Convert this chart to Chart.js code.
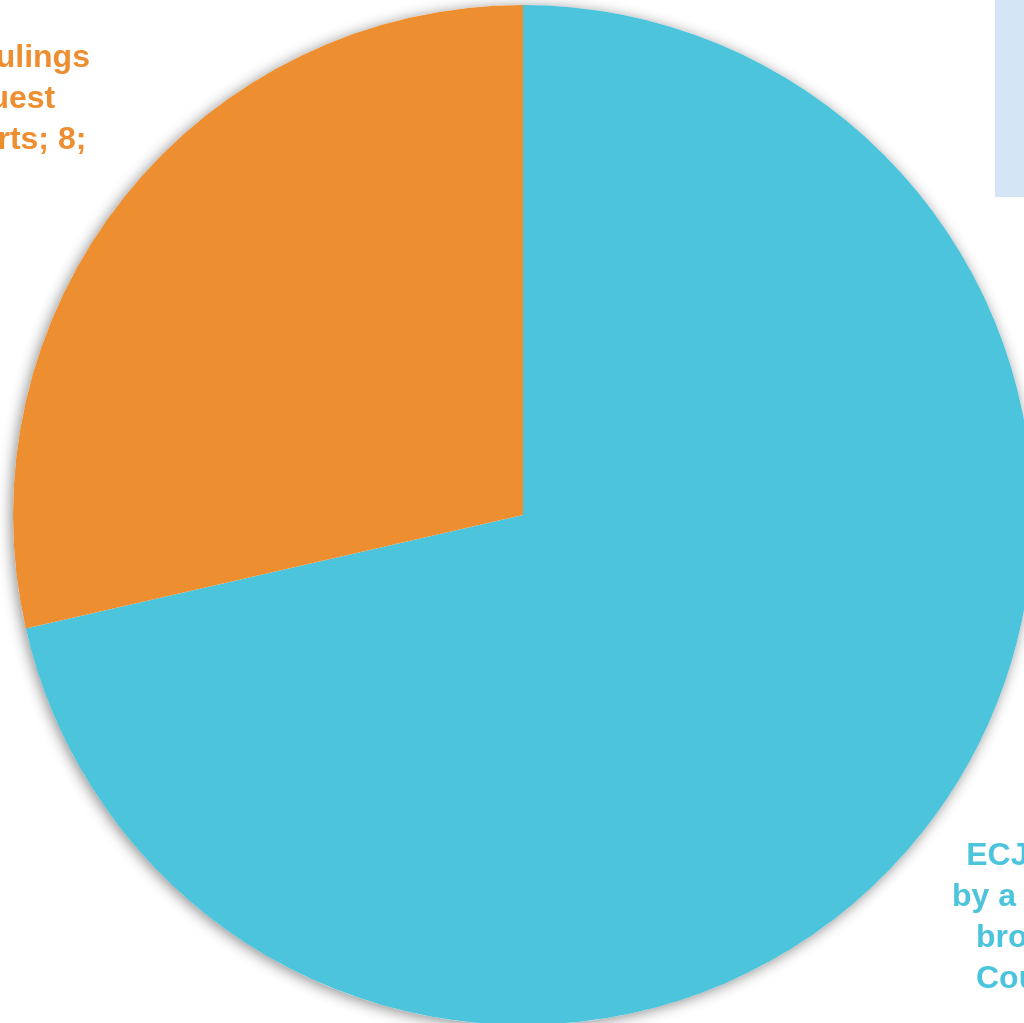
<!DOCTYPE html>
<html>
<head>
<meta charset="utf-8">
<script src="https://cdn.jsdelivr.net/npm/chart.js@4/dist/chart.umd.min.js"></script>
<style>
  html, body { margin: 0; padding: 0; background: #fff; overflow: hidden; }
  #wrap { position: relative; width: 1100px; height: 1100px; }
</style>
</head>
<body>
<div id="wrap"><canvas id="pie" width="1100" height="1100"></canvas></div>
<script>
// Pie chart - slices go clockwise from 12 o'clock
const categories = ['ECJ judgments', 'Preliminary rulings'];
const values = [20, 8];
const colors = ['#4BC4DC', '#ED8E31'];
const labelLines = [
    ['ECJ judgments;', 'by a chamber of 3', 'brought by the', 'Court; 20; 71%'],
    ['Preliminary rulings', 'on the request', 'ordinary courts; 8;', '29%']
];

// soft shadow under the whole pie + the cut-off box at top right
const pieShadow = {
    id: 'pieShadow',
    beforeDatasetsDraw(chart) {
        const arc = chart.getDatasetMeta(0).data[0];
        if (!arc) return;
        const ctx = chart.ctx;
        ctx.save();
        ctx.fillStyle = '#D4E6F6';
        ctx.fillRect(995, 0, 200, 197);
        ctx.shadowColor = 'rgba(0,0,0,0.45)';
        ctx.shadowBlur = 14;
        ctx.shadowOffsetX = -2;
        ctx.shadowOffsetY = 2;
        ctx.beginPath();
        ctx.arc(arc.x, arc.y, arc.outerRadius, 0, Math.PI * 2);
        ctx.fillStyle = '#fff';
        ctx.fill();
        ctx.restore();
    }
};

// data labels outside the visible area, partly cut off
const outsideLabels = {
    id: 'outsideLabels',
    afterDatasetsDraw(chart) {
        const ctx = chart.ctx;
        const anchors = [[1088, 856], [-55, 58]];
        ctx.save();
        ctx.font = 'bold 32px "Liberation Sans", Arial, sans-serif';
        ctx.textAlign = 'center';
        ctx.textBaseline = 'middle';
        labelLines.forEach((lines, i) => {
            ctx.fillStyle = colors[i];
            lines.forEach((t, j) => {
                ctx.fillText(t, anchors[i][0], anchors[i][1] + j * 41);
            });
        });
        ctx.restore();
    }
};

new Chart(document.getElementById('pie'), {
    type: 'pie',
    data: {
        labels: categories,
        datasets: [{
            data: values,
            backgroundColor: colors,
            borderWidth: 0
        }]
    },
    options: {
        responsive: false,
        animation: false,
        layout: { padding: { left: 13, top: 5, right: 67, bottom: 75 } },
        plugins: {
            legend: { display: false },
            tooltip: { enabled: false }
        }
    },
    plugins: [pieShadow, outsideLabels]
});
</script>
</body>
</html>
